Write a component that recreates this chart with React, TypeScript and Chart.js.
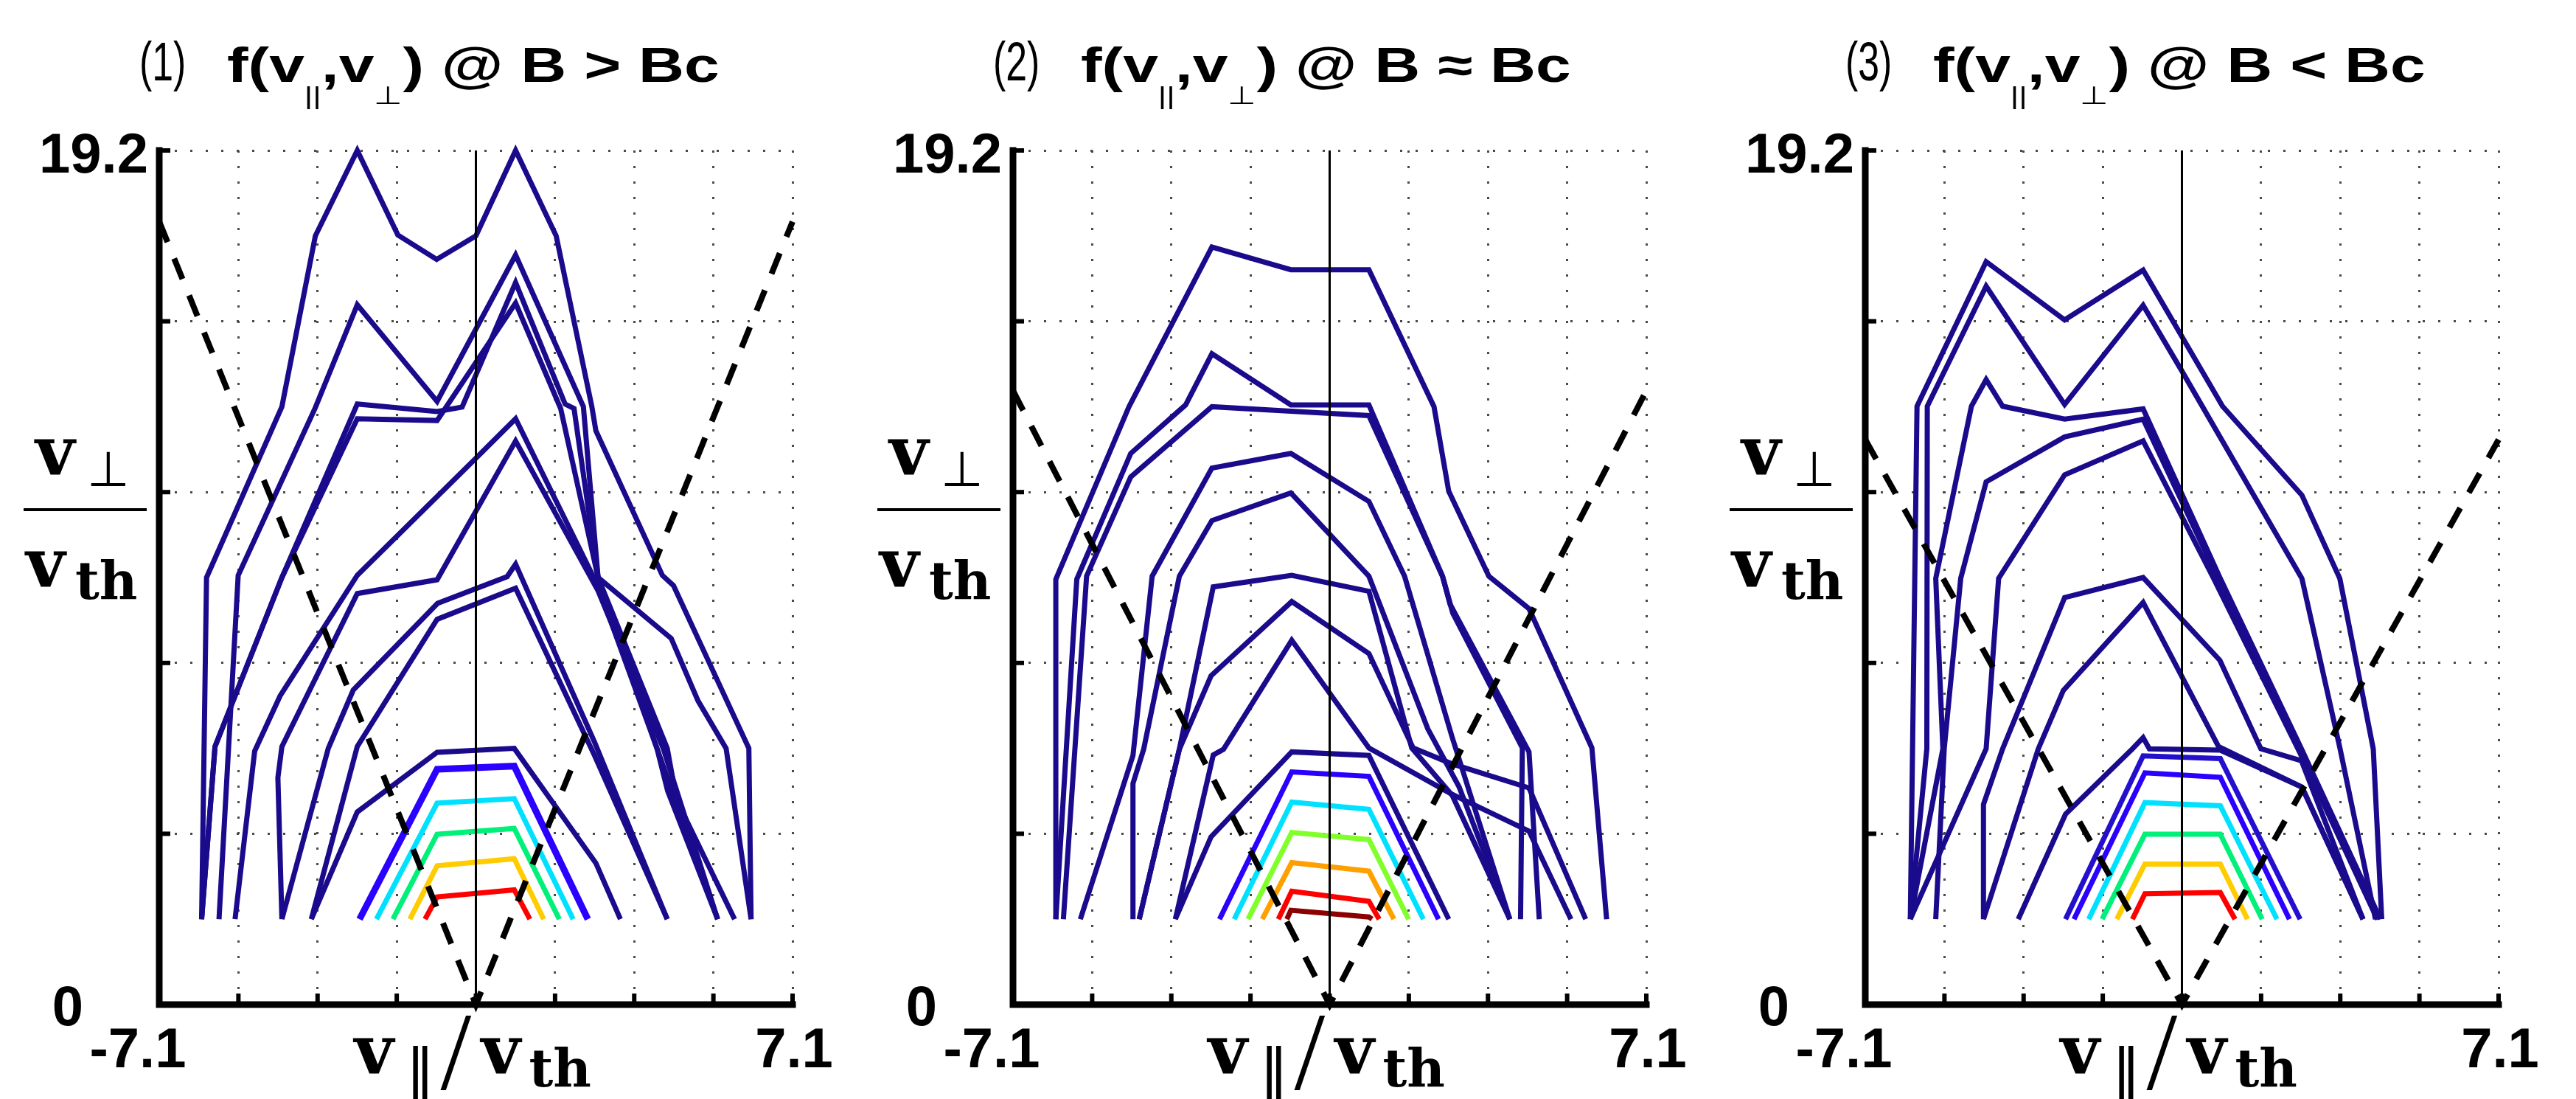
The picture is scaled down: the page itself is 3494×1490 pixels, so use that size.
import React, { useEffect, useRef } from 'react';
import { Chart, registerables } from 'chart.js';

Chart.register(...registerables);

// ---------- axis ranges and tick values ----------
const X_MIN = -7.1;
const X_MAX = 7.1;
const Y_MIN = 0;
const Y_MAX = 19.2;
const xGridTicks = [-7.1, -5.325, -3.55, -1.775, 0, 1.775, 3.55, 5.325, 7.1];
const yGridTicks = [0, 3.84, 7.68, 11.52, 15.36, 19.2];
const xTickLabels = ['-7.1', '7.1'];
const yTickLabels = ['0', '19.2'];

// ---------- panel texts ----------
const panelNumbers = ['(1)', '(2)', '(3)'];
const panelConditions = ['B > Bc', 'B \u2248 Bc', 'B < Bc'];
// loss-cone boundary height reached at |v_par| = 7.1
const lossConeTop = [17.6, 13.8, 12.7];

// ---------- colours ----------
const NAVY = '#1a0a8c';
const BLUE = '#2a00ff';
const INDIGO = '#2410cc';
const CYAN = '#00e1ff';
const GREEN = '#00f07a';
const LGREEN = '#80ff2a';
const GOLD = '#ffcc00';
const ORANGE = '#ffa000';
const RED = '#ff0000';
const DARKRED = '#8b0000';

// ---------- panel 1 : B > Bc ----------
const p1L1 = [[-6.15, 1.92], [-6.04, 9.6], [-4.35, 13.44], [-3.6, 17.28], [-2.66, 19.2], [-1.75, 17.3], [-0.88, 16.75], [0, 17.28], [0.89, 19.2], [1.8, 17.28], [2.6, 13.44], [2.69, 12.9], [4.18, 9.65], [4.43, 9.42], [6.12, 5.76], [6.17, 1.92]];
const p1L2 = [[-5.76, 1.92], [-5.33, 9.65], [-3.6, 13.42], [-2.66, 15.73], [-0.87, 13.56], [0.89, 16.85], [2.41, 13.44], [2.74, 9.6], [4.38, 8.23], [4.98, 6.83], [5.61, 5.76], [6.17, 1.92]];
const p1L3 = [[-6.15, 1.92], [-5.85, 5.8], [-4.35, 9.6], [-2.66, 13.5], [-0.87, 13.33], [-0.31, 13.43], [0.89, 16.23], [2.0, 13.5], [2.2, 13.4], [2.74, 9.6], [4.29, 5.76], [4.5, 4.6], [5.8, 1.92]];
const p1L4 = [[-6.15, 1.92], [-5.85, 5.8], [-4.35, 9.6], [-2.66, 13.17], [-0.87, 13.13], [0.89, 15.77], [1.9, 13.4], [2.74, 9.6], [4.06, 5.76], [4.3, 4.8], [5.42, 1.92]];
const p1L5 = [[-5.4, 1.92], [-4.96, 5.7], [-4.39, 6.94], [-2.66, 9.65], [0, 12.28], [0.89, 13.17], [2.74, 9.4], [4.06, 5.76], [5.42, 1.92]];
const p1L6 = [[-4.35, 1.92], [-4.44, 5.1], [-4.35, 5.8], [-2.66, 9.24], [-0.87, 9.55], [0.89, 12.67], [2.74, 9.3], [4.2, 5.76], [5.42, 1.92]];
const p1L7 = [[-4.35, 1.92], [-3.31, 5.76], [-2.75, 7.07], [-0.86, 9.02], [0.7, 9.62], [0.89, 9.9], [2.66, 5.9], [4.29, 1.92]];
const p1L8 = [[-3.69, 1.92], [-2.66, 5.8], [-0.87, 8.66], [0.89, 9.36], [2.66, 5.6], [4.29, 1.92]];
const p1L9 = [[-3.69, 1.92], [-2.66, 4.33], [-0.87, 5.67], [0.86, 5.76], [2.69, 3.18], [3.24, 1.92]];
const p1L10 = [[-2.61, 1.92], [-0.87, 5.29], [0.86, 5.36], [2.51, 1.92]];
const p1L11 = [[-2.23, 1.92], [-0.87, 4.53], [0.86, 4.63], [2.18, 1.92]];
const p1L12 = [[-1.86, 1.92], [-0.87, 3.83], [0.86, 3.96], [1.87, 1.92]];
const p1L13 = [[-1.48, 1.92], [-0.87, 3.12], [0.86, 3.28], [1.52, 1.92]];
const p1L14 = [[-1.14, 1.92], [-0.87, 2.42], [0.86, 2.58], [1.21, 1.92]];
const panel1Lines = [p1L1, p1L2, p1L3, p1L4, p1L5, p1L6, p1L7, p1L8, p1L9, p1L10, p1L11, p1L12, p1L13, p1L14];
const panel1Colors = [NAVY, NAVY, NAVY, NAVY, NAVY, NAVY, NAVY, NAVY, NAVY, BLUE, CYAN, GREEN, GOLD, RED];

// ---------- panel 2 : B ~ Bc ----------
const p2L1 = [[-6.14, 1.92], [-6.14, 9.56], [-4.5, 13.44], [-2.64, 17.03], [-0.87, 16.52], [0.88, 16.52], [2.34, 13.44], [2.67, 11.54], [3.57, 9.63], [4.47, 8.9], [5.88, 5.77], [6.21, 1.92]];
const p2L2 = [[-6.14, 1.92], [-5.67, 9.56], [-4.46, 12.39], [-3.23, 13.48], [-2.64, 14.63], [-0.87, 13.48], [0.88, 13.48], [2.53, 9.63], [2.7, 9.0], [4.47, 5.68], [4.7, 1.92]];
const p2L3 = [[-5.97, 1.92], [-5.45, 9.63], [-4.46, 11.86], [-2.64, 13.44], [-0.87, 13.34], [0.88, 13.24], [2.53, 9.63], [2.76, 8.8], [4.32, 5.77], [4.28, 1.92]];
const p2L4 = [[-5.59, 1.92], [-4.41, 5.6], [-3.98, 9.63], [-2.64, 12.06], [-0.87, 12.39], [0.88, 11.31], [1.68, 9.63], [2.75, 6.0], [4.04, 1.92]];
const p2L5 = [[-4.41, 1.92], [-4.41, 4.97], [-4.17, 5.74], [-3.37, 9.63], [-2.64, 10.88], [-0.87, 11.5], [0.88, 9.63], [2.2, 6.2], [2.9, 4.9], [4.04, 1.92]];
const p2L6 = [[-4.27, 1.92], [-3.37, 5.74], [-2.61, 9.39], [-0.85, 9.65], [0.88, 9.29], [1.84, 5.77], [2.75, 4.7], [4.04, 1.92]];
const p2L7 = [[-4.27, 1.92], [-3.37, 5.74], [-2.66, 7.39], [-0.85, 9.06], [0.88, 7.89], [1.87, 5.77], [2.72, 5.42], [4.47, 4.87], [5.74, 1.92]];
const p2L8 = [[-3.46, 1.92], [-2.61, 5.61], [-2.38, 5.74], [-0.85, 8.19], [0.88, 5.77], [2.72, 4.74], [4.47, 3.9], [5.41, 1.92]];
const p2L9 = [[-3.46, 1.92], [-2.66, 3.77], [-0.85, 5.68], [0.88, 5.6], [2.67, 1.92]];
const p2L10 = [[-2.47, 1.92], [-0.85, 5.23], [0.88, 5.13], [2.44, 1.92]];
const p2L11 = [[-2.14, 1.92], [-0.85, 4.55], [0.88, 4.39], [2.1, 1.92]];
const p2L12 = [[-1.83, 1.92], [-0.85, 3.87], [0.88, 3.71], [1.77, 1.92]];
const p2L13 = [[-1.51, 1.92], [-0.85, 3.19], [0.88, 3.0], [1.44, 1.92]];
const p2L14 = [[-1.15, 1.92], [-0.85, 2.55], [0.88, 2.32], [1.11, 1.92]];
const p2L15 = [[-0.96, 1.92], [-0.87, 2.12], [0.88, 1.97], [0.95, 1.92]];
const panel2Lines = [p2L1, p2L2, p2L3, p2L4, p2L5, p2L6, p2L7, p2L8, p2L9, p2L10, p2L11, p2L12, p2L13, p2L14, p2L15];
const panel2Colors = [NAVY, NAVY, NAVY, NAVY, NAVY, NAVY, NAVY, NAVY, NAVY, BLUE, CYAN, LGREEN, ORANGE, RED, DARKRED];

// ---------- panel 3 : B < Bc ----------
const p3L1 = [[-6.09, 1.92], [-5.94, 13.45], [-4.39, 16.7], [-2.63, 15.39], [-0.87, 16.51], [0.91, 13.45], [2.69, 11.45], [3.54, 9.58], [4.29, 5.75], [4.48, 1.92]];
const p3L2 = [[-6.09, 1.92], [-5.72, 5.75], [-5.71, 13.45], [-4.39, 16.15], [-2.63, 13.49], [-0.87, 15.72], [0, 14.24], [2.69, 9.58], [3.54, 5.78], [4.34, 1.92]];
const p3L3 = [[-6.09, 1.92], [-5.36, 5.75], [-5.52, 9.58], [-4.72, 13.45], [-4.39, 14.05], [-4.02, 13.45], [-2.63, 13.16], [-0.87, 13.39], [0.85, 9.6], [2.68, 5.75], [4.45, 1.92]];
const p3L4 = [[-5.52, 1.92], [-5.33, 5.75], [-4.96, 9.58], [-4.39, 11.75], [-2.63, 12.76], [-0.87, 13.16], [0.8, 9.6], [2.68, 5.7], [4.4, 1.92]];
const p3L5 = [[-6.09, 1.92], [-4.39, 5.75], [-4.11, 9.58], [-2.63, 11.91], [-0.87, 12.67], [0.7, 9.6], [2.65, 5.65], [4.38, 1.92]];
const p3L6 = [[-4.45, 1.92], [-4.45, 4.5], [-4.02, 5.75], [-2.63, 9.15], [-0.87, 9.6], [0.85, 7.74], [1.77, 5.75], [2.68, 5.48], [4.06, 1.92]];
const p3L7 = [[-4.45, 1.92], [-3.22, 5.75], [-2.66, 7.06], [-0.87, 9.04], [0.82, 5.8], [2.69, 4.89], [4.06, 1.92]];
const p3L8 = [[-3.67, 1.92], [-2.61, 4.28], [-1.11, 5.75], [-0.87, 6.0], [-0.73, 5.75], [0.86, 5.72], [2.69, 4.89], [4.06, 1.92]];
const p3L9 = [[-2.61, 1.92], [-0.87, 5.59], [0.86, 5.53], [2.65, 1.92]];
const p3L10 = [[-2.42, 1.92], [-0.83, 5.21], [0.86, 5.11], [2.41, 1.92]];
const p3L11 = [[-2.09, 1.92], [-0.83, 4.54], [0.86, 4.47], [2.13, 1.92]];
const p3L12 = [[-1.79, 1.92], [-0.83, 3.83], [0.86, 3.83], [1.8, 1.92]];
const p3L13 = [[-1.46, 1.92], [-0.83, 3.16], [0.86, 3.16], [1.47, 1.92]];
const p3L14 = [[-1.11, 1.92], [-0.83, 2.49], [0.86, 2.52], [1.19, 1.92]];
const panel3Lines = [p3L1, p3L2, p3L3, p3L4, p3L5, p3L6, p3L7, p3L8, p3L9, p3L10, p3L11, p3L12, p3L13, p3L14];
const panel3Colors = [NAVY, NAVY, NAVY, NAVY, NAVY, NAVY, NAVY, NAVY, INDIGO, BLUE, CYAN, GREEN, GOLD, RED];

const PANEL_LINES = [panel1Lines, panel2Lines, panel3Lines];
const PANEL_COLORS = [panel1Colors, panel2Colors, panel3Colors];

// ---------- layout (pixels) ----------
const PAGE_W = 3494;
const PAGE_H = 1490;
const CANVAS_W = 1160;
const PAD_LEFT = 216;
const PLOT_W = 859;
const PLOT_TOP = 204;
const PLOT_BOTTOM = 1362;
const PLOT_LEFT = [216, 1374, 2530];

const LINE_BASE: any = {
  showLine: true,
  pointRadius: 0,
  pointHoverRadius: 0,
  fill: false,
  tension: 0,
  borderJoinStyle: 'miter',
  clip: 14,
};

const toPts = (arr: number[][]) => arr.map(([x, y]) => ({ x, y }));

const axesPlugin = {
  id: 'matlabAxes',
  afterDraw(chart: any) {
    const { ctx, scales } = chart;
    const xs = scales.x;
    const ys = scales.y;
    const x0 = xs.getPixelForValue(X_MIN);
    const x1 = xs.getPixelForValue(X_MAX);
    const y0 = ys.getPixelForValue(Y_MIN);
    const y1 = ys.getPixelForValue(Y_MAX);
    ctx.save();
    ctx.strokeStyle = '#000';
    ctx.lineWidth = 9;
    ctx.lineCap = 'square';
    ctx.lineJoin = 'miter';
    ctx.beginPath();
    ctx.moveTo(x0, y1);
    ctx.lineTo(x0, y0);
    ctx.lineTo(x1, y0);
    ctx.stroke();
    ctx.lineCap = 'butt';
    ctx.lineWidth = 6;
    xGridTicks.forEach((v) => {
      const px = xs.getPixelForValue(v);
      ctx.beginPath();
      ctx.moveTo(px, y0);
      ctx.lineTo(px, y0 - 15);
      ctx.stroke();
    });
    yGridTicks.forEach((v) => {
      const py = ys.getPixelForValue(v);
      ctx.beginPath();
      ctx.moveTo(x0, py);
      ctx.lineTo(x0 + 15, py);
      ctx.stroke();
    });
    ctx.fillStyle = '#000';
    ctx.font = 'bold 76px "Liberation Sans", Arial, sans-serif';
    ctx.textBaseline = 'alphabetic';
    ctx.textAlign = 'right';
    ctx.fillText(yTickLabels[1], x0 - 15, y1 + 30);
    ctx.textAlign = 'center';
    ctx.fillText(yTickLabels[0], x0 - 124, y0 + 28);
    ctx.fillText(xTickLabels[0], x0 - 29, y0 + 85);
    ctx.fillText(xTickLabels[1], x1 + 2, y0 + 85);
    ctx.restore();
  },
};

function buildConfig(idx: number): any {
  const lines = PANEL_LINES[idx];
  const colors = PANEL_COLORS[idx];
  const coneH = lossConeTop[idx];
  const datasets: any[] = [
    { ...LINE_BASE, data: [{ x: 0, y: Y_MIN }, { x: 0, y: Y_MAX }], borderColor: '#000', borderWidth: 3 },
    {
      ...LINE_BASE,
      data: [{ x: X_MIN, y: coneH }, { x: 0, y: 0 }, { x: X_MAX, y: coneH }],
      borderColor: '#000',
      borderWidth: 8,
      borderDash: [30, 24],
    },
  ];
  lines.forEach((l, i) => {
    const c = colors[i];
    datasets.push({ ...LINE_BASE, data: toPts(l), borderColor: c, borderWidth: c === BLUE && idx === 0 ? 9 : 7 });
  });
  const gridOpts = { color: '#4a4a4a', lineWidth: 3, drawTicks: false };
  return {
    type: 'scatter',
    data: { datasets },
    options: {
      responsive: false,
      animation: false,
      devicePixelRatio: 1,
      events: [],
      layout: {
        padding: {
          left: PAD_LEFT,
          right: CANVAS_W - PAD_LEFT - PLOT_W,
          top: PLOT_TOP,
          bottom: PAGE_H - PLOT_BOTTOM,
        },
      },
      plugins: { legend: { display: false }, tooltip: { enabled: false }, title: { display: false } },
      scales: {
        x: {
          type: 'linear',
          min: X_MIN,
          max: X_MAX,
          afterBuildTicks: (s: any) => {
            s.ticks = xGridTicks.map((v) => ({ value: v }));
          },
          ticks: { display: false },
          grid: gridOpts,
          border: { display: false, dash: [3, 18] },
        },
        y: {
          type: 'linear',
          min: Y_MIN,
          max: Y_MAX,
          afterBuildTicks: (s: any) => {
            s.ticks = yGridTicks.map((v) => ({ value: v }));
          },
          ticks: { display: false },
          grid: gridOpts,
          border: { display: false, dash: [3, 18] },
        },
      },
    },
    plugins: [axesPlugin],
  };
}

function Txt({ x, base, size, family, weight = 'normal', children, extra }: any) {
  const k = family.indexOf('Liberation Serif') >= 0 ? 0.8375 : 0.846;
  return (
    <span
      style={{
        position: 'absolute',
        left: x,
        top: base - k * size,
        fontFamily: family,
        fontSize: size,
        fontWeight: weight,
        lineHeight: `${size}px`,
        whiteSpace: 'nowrap',
        color: '#000',
        ...(extra || {}),
      }}
    >
      {children}
    </span>
  );
}

const SERIF = '"DejaVu Serif", serif';
const SANS = '"Liberation Sans", Arial, sans-serif';
const LSERIF = '"Liberation Serif", serif';

function Panel({ idx }: { idx: number }) {
  const ref = useRef<HTMLCanvasElement>(null);
  useEffect(() => {
    const chart = new Chart(ref.current as HTMLCanvasElement, buildConfig(idx));
    return () => chart.destroy();
  }, [idx]);
  const L = PLOT_LEFT[idx];
  const C = L + PLOT_W / 2;
  const sub: any = { fontSize: 34, fontWeight: 'normal', position: 'relative', top: 30, lineHeight: 0 };
  return (
    <>
      <canvas
        ref={ref}
        width={CANVAS_W}
        height={PAGE_H}
        style={{ position: 'absolute', left: L - PAD_LEFT, top: 0, width: CANVAS_W, height: PAGE_H }}
      />
      {/* title */}
      <Txt
        x={L - 27}
        base={110}
        size={74}
        family={SANS}
        extra={{ transform: 'scaleX(0.7)', transformOrigin: '0 0' }}
      >
        {panelNumbers[idx]}
      </Txt>
      <Txt
        x={L + 92}
        base={111}
        size={66}
        family={SANS}
        weight="bold"
        extra={{ transform: 'scaleX(1.3)', transformOrigin: '0 0' }}
      >
        f(v<span style={sub}>||</span>,v<span style={sub}>{'\u22A5'}</span>) @ {panelConditions[idx]}
      </Txt>
      {/* y label: v_perp / v_th */}
      <Txt x={L - 168} base={643} size={92} family={SERIF} weight="bold">v</Txt>
      <Txt x={L - 98} base={660} size={66} family={'"DejaVu Sans", sans-serif'}>{'\u22A5'}</Txt>
      <div style={{ position: 'absolute', left: L - 184, top: 689, width: 167, height: 4, background: '#000' }} />
      <Txt x={L - 181} base={795} size={92} family={SERIF} weight="bold">v</Txt>
      <Txt x={L - 114} base={812} size={71} family={SERIF} weight="bold">th</Txt>
      {/* x label: v_par / v_th */}
      <Txt x={C - 165} base={1455} size={92} family={SERIF} weight="bold">v</Txt>
      <Txt x={C - 95} base={1478} size={78} family={'"DejaVu Sans", sans-serif'}>{'\u2016'}</Txt>
      <Txt x={C - 48} base={1477} size={150} family={LSERIF}>/</Txt>
      <Txt x={C + 7} base={1455} size={92} family={SERIF} weight="bold">v</Txt>
      <Txt x={C + 72} base={1473} size={71} family={SERIF} weight="bold">th</Txt>
    </>
  );
}

export default function App() {
  return (
    <div
      style={{
        position: 'fixed',
        left: 0,
        top: 0,
        width: PAGE_W,
        height: PAGE_H,
        background: '#fff',
        overflow: 'hidden',
      }}
    >
      {[0, 1, 2].map((i) => (
        <Panel key={i} idx={i} />
      ))}
    </div>
  );
}
